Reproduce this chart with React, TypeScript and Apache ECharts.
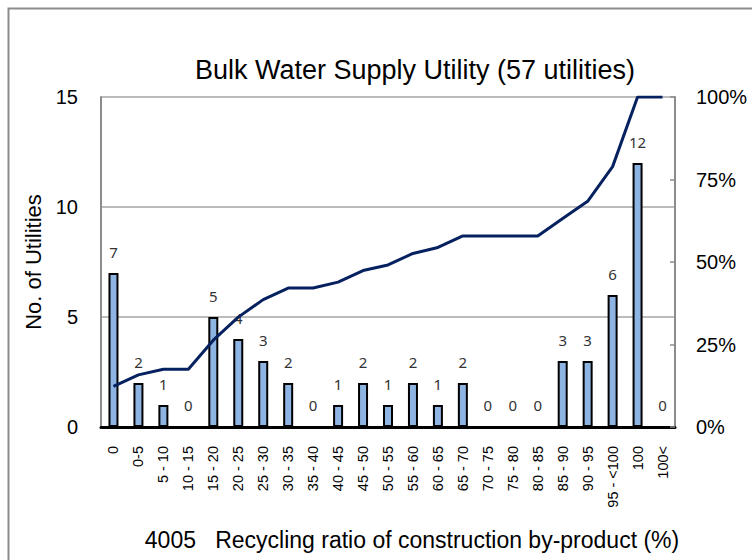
import React, { useEffect, useRef } from "react";
import * as echarts from "echarts";

const categories = ["0", "0-5", "5 - 10", "10 - 15", "15 - 20", "20 - 25", "25 - 30", "30 - 35", "35 - 40", "40 - 45", "45 - 50", "50 - 55", "55 - 60", "60 - 65", "65 - 70", "70 - 75", "75 - 80", "80 - 85", "85 - 90", "90 - 95", "95 - <100", "100", "100<"];
const counts = [7, 2, 1, 0, 5, 4, 3, 2, 0, 1, 2, 1, 2, 1, 2, 0, 0, 0, 3, 3, 6, 12, 0];
const cumulativePct = [12.3, 15.8, 17.5, 17.5, 26.3, 33.3, 38.6, 42.1, 42.1, 43.9, 47.4, 49.1, 52.6, 54.4, 57.9, 57.9, 57.9, 57.9, 63.2, 68.4, 78.9, 100, 100];
const leftTicks = [0, 5, 10, 15];
const rightTicks = [0, 25, 50, 75, 100];
const xAxisTitle = "4005   Recycling ratio of construction by-product (%)";

const FONT = "'Liberation Sans', Arial, sans-serif";

export default function App() {
  const ref = useRef<HTMLDivElement>(null);
  useEffect(() => {
    document.body.style.margin = "0";
    const chart = echarts.init(ref.current!, null, { renderer: "svg" });
    chart.setOption({
      animation: false,
      backgroundColor: "#fff",
      textStyle: { fontFamily: FONT },
      title: {
        text: "Bulk Water Supply Utility (57 utilities)",
        left: 410,
        textAlign: "center",
        top: 51,
        textStyle: { fontFamily: FONT, fontSize: 27, fontWeight: "normal", color: "#000" },
      },
      graphic: [
        {
          type: "rect",
          shape: { x: 8.5, y: 8.5, width: 900, height: 700 },
          style: { fill: "none", stroke: "#8c8c8c", lineWidth: 2 },
          silent: true,
        },
        {
          type: "text",
          x: 412,
          y: 540,
          style: {
            text: xAxisTitle,
            fontSize: 23,
            fontFamily: FONT,
            fill: "#000",
            align: "center",
            verticalAlign: "middle",
          },
        },
      ],
      grid: { left: 101, right: 77, top: 97, bottom: 133 },
      xAxis: [
        {
          type: "category",
          data: categories,
          boundaryGap: true,
          axisLine: { lineStyle: { color: "#8c8c8c", width: 2 } },
          axisTick: { show: false },
          axisLabel: { rotate: 90, fontSize: 14.5, color: "#000", margin: 19, fontFamily: FONT, interval: 0 },
        },
        {
          type: "category",
          data: categories,
          position: "top",
          axisLine: { show: true, lineStyle: { color: "#000", width: 3 } },
          axisTick: { show: false },
          axisLabel: { show: false },
        },
      ],
      yAxis: [
        {
          type: "value",
          min: leftTicks[0],
          max: leftTicks[leftTicks.length - 1],
          interval: 5,
          axisLine: { show: true, lineStyle: { color: "#8c8c8c", width: 2 } },
          axisTick: { show: false },
          axisLabel: { fontSize: 20, color: "#000", margin: 23, fontFamily: FONT },
          splitLine: { show: true, lineStyle: { color: "#a6a6a6", width: 1.5 } },
          name: "No. of Utilities",
          nameLocation: "middle",
          nameGap: 57,
          nameTextStyle: { fontSize: 22, color: "#000", fontFamily: FONT },
        },
        {
          type: "value",
          min: rightTicks[0],
          max: rightTicks[rightTicks.length - 1],
          interval: 25,
          position: "right",
          axisLine: { show: true, lineStyle: { color: "#8c8c8c", width: 2 } },
          axisTick: { show: true, inside: true, length: 5, lineStyle: { color: "#8c8c8c", width: 1.5 } },
          axisLabel: { formatter: "{value}%", fontSize: 20, color: "#000", margin: 21, fontFamily: FONT },
          splitLine: { show: false },
        },
      ],
      series: [
        {
          type: "bar",
          data: counts,
          barWidth: 10,
          itemStyle: { color: "#8db4e2", borderColor: "#000", borderWidth: 2 },
          label: {
            show: true,
            position: "top",
            distance: 14,
            fontSize: 15,
            color: "#333",
            fontFamily: "'Noto Sans', sans-serif",
          },
          z: 2,
        },
        {
          type: "line",
          yAxisIndex: 1,
          data: cumulativePct,
          showSymbol: false,
          symbol: "none",
          lineStyle: { color: "#06215f", width: 3 },
          z: 5,
        },
      ],
    });
    return () => chart.dispose();
  }, []);
  return <div ref={ref} style={{ width: 752, height: 560 }} />;
}
